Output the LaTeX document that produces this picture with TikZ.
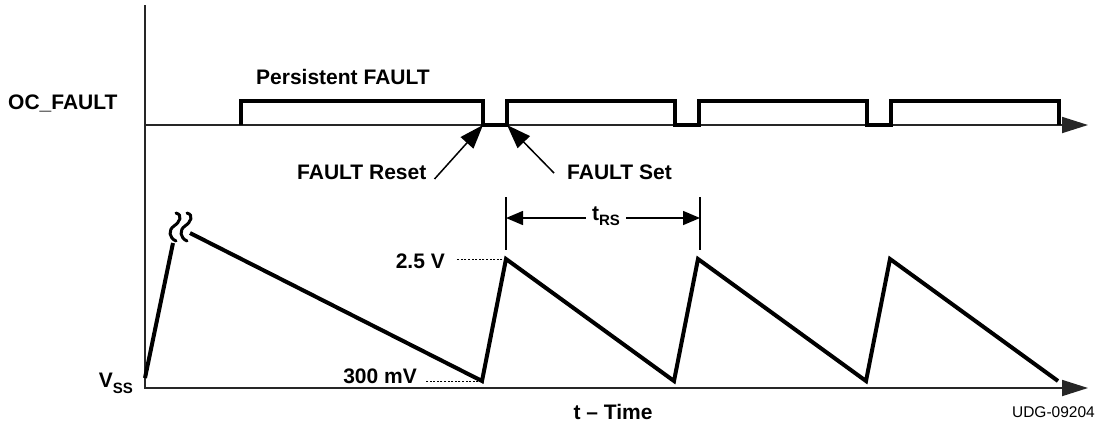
\documentclass[tikz,border=0pt]{standalone}
\usepackage{fontspec}
\setmainfont{Liberation Sans}
\usetikzlibrary{arrows.meta}

\begin{document}
\begin{tikzpicture}[x=1pt,y=-1pt,
    axis/.style={line width=1.8pt,black!85,-{Triangle[length=26pt,width=16pt]}},
    wave/.style={line width=4pt,line join=miter},
    lbl/.style={font=\fontsize{21}{24}\selectfont\bfseries,inner sep=0pt},
    leader/.style={line width=1.5pt,-{Triangle[length=24pt,width=17pt]}},
    span/.style={line width=1.5pt,-{Triangle[length=17pt,width=14pt]}},
    guide/.style={line width=0.9pt,dash pattern=on 2pt off 1.6pt}]
    \useasboundingbox (0,0) rectangle (1099,424);
    \coordinate (top) at (145,5);
    \coordinate (O) at (145,388);
    \coordinate (tend) at (1088,388);
    \coordinate (fa) at (145,125);
    \coordinate (faend) at (1088,125);
    \coordinate (reset) at (483,125);
    \coordinate (set) at (507,125);
    \coordinate (pk) at (506,259);
    \coordinate (vl) at (482,381);
    \coordinate (tl) at (506,218);
    \coordinate (tr) at (700,218);
    \draw[axis] (top) -- (O) -- (tend);
    \draw[axis] (fa) -- (faend);
    \draw[wave] (241,125) -- (241,101)
      \foreach \k in {0,1,2} { -- ({483+192*\k},101) -- ({483+192*\k},125)
      -- ({507+192*\k},125) -- ({507+192*\k},101) } -- (1059,101) -- (1059,125);
    \draw[wave] (145,378) -- (173,243);
    \draw[wave] (190,233) \foreach \k in {0,1,2} { -- ({482+192*\k},381)
      -- ({506+192*\k},259) } -- (1058,381);
    \foreach \x in {171,182}
    \draw[line width=3pt,line cap=round] ({\x+5},213) .. controls ({\x+12},215) and ({\x+9},222) .. ({\x+3},226)
      .. controls ({\x-3},230) and ({\x-2},238) .. ({\x+5},241);
    \node[lbl,anchor=base west] (oc) at (8,109) {OC\_FAULT};
    \node[lbl,anchor=base west] (pers) at (256,84) {Persistent FAULT};
    \node[lbl,anchor=base west] (rst) at (297,179) {FAULT Reset};
    \node[lbl,anchor=base west] (st) at (567,179) {FAULT Set};
    \draw[leader] ([xshift=8pt]rst.base east) -- (reset);
    \draw[leader] ([xshift=-13pt,yshift=6pt]st.base west) -- (set);
    \node[lbl,anchor=base east] (hi) at (445,268) {2.5 V};
    \node[lbl,anchor=base east] (lo) at (417,383) {300 mV};
    \draw[guide] (pk) -- ([xshift=12pt]hi.east |- pk);
    \draw[guide] (vl) -- ([xshift=8pt]lo.east |- vl);
    \node[lbl,anchor=base east] (vss) at (133,387) {V\raisebox{-6pt}{\fontsize{15}{17}\selectfont SS}};
    \draw[line width=2.5pt] (506,197) -- (506,250);
    \draw[line width=2.5pt] (700,197) -- (700,250);
    \node[lbl,anchor=base,inner xsep=6pt] (trs) at (606,220) {t\raisebox{-5pt}{\fontsize{15}{17}\selectfont RS}};
    \draw[span] (trs.west |- tl) -- (tl);
    \draw[span] (trs.east |- tr) -- (tr);
    \node[lbl,anchor=base] (time) at (613,419) {t \textendash{} Time};
    \node[font=\fontsize{15.5}{18}\selectfont,inner sep=0pt,anchor=base east] (udg) at (1095,417) {UDG-09204};
\end{tikzpicture}
\end{document}
